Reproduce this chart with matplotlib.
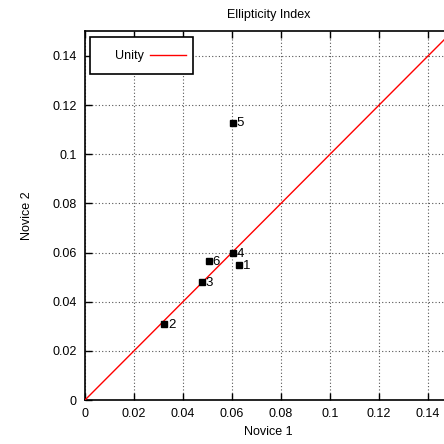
import matplotlib
matplotlib.use("Agg")
import matplotlib.pyplot as plt
from matplotlib.patches import Rectangle
import numpy as np

plt.rcParams['font.family'] = ['Liberation Sans', 'DejaVu Sans']

labels = ['1', '2', '3', '4', '5', '6']
novice1 = [0.0629, 0.0324, 0.0479, 0.0605, 0.0605, 0.0506]
novice2 = [0.0549, 0.0308, 0.0479, 0.0597, 0.1129, 0.0566]
ticks = [0, 0.02, 0.04, 0.06, 0.08, 0.1, 0.12, 0.14]
tick_labels = ['0', '0.02', '0.04', '0.06', '0.08', '0.1', '0.12', '0.14']

fig = plt.figure(figsize=(4.44, 4.44), dpi=100)
ax = fig.add_axes([85/444, 44/444, 367.5/444, 368.6/444])
ax.set_xlim(0, 0.15)
ax.set_ylim(0, 0.15)

ax.set_xticks(ticks)
ax.set_xticklabels(tick_labels)
ax.set_yticks(ticks)
ax.set_yticklabels(tick_labels)
ax.tick_params(direction='in', top=True, right=True, length=5, width=1,
               labelsize=9, colors='black', pad=6)
ax.grid(True, linestyle=(0, (1, 2)), color='#555555', linewidth=0.8)
for s in ax.spines.values():
    s.set_linewidth(1.2)

xs = np.array([0, 0.15])
ax.plot(xs, xs, color='#ff0000', linewidth=1, label='Unity', zorder=3)

ax.plot(novice1, novice2, linestyle='none', marker='s', markersize=5,
        color='black', zorder=4)
for lab, x, y in zip(labels, novice1, novice2):
    ax.annotate(lab, (x, y), xytext=(2.5, -0.5), textcoords='offset points',
                ha='left', va='center', fontsize=9.5, zorder=5)

ax.set_title('Ellipticity Index', fontsize=9, pad=10)
ax.set_xlabel('Novice 1', fontsize=9, labelpad=4)
ax.set_ylabel('Novice 2', fontsize=9, labelpad=14)

# gnuplot-style key: text first, then line sample
ax.add_patch(Rectangle((0.0136, 0.8852), 0.2803, 0.0996, transform=ax.transAxes,
                       facecolor='white', edgecolor='black', linewidth=1.2,
                       zorder=6, clip_on=False))
ax.text(0.0816, 0.934, 'Unity', transform=ax.transAxes, ha='left', va='center',
        fontsize=9, zorder=7)
ax.plot([0.1769, 0.2748], [0.935, 0.935], transform=ax.transAxes,
        color='#ff0000', linewidth=1, zorder=7)

fig.savefig('out.png', dpi=100)
